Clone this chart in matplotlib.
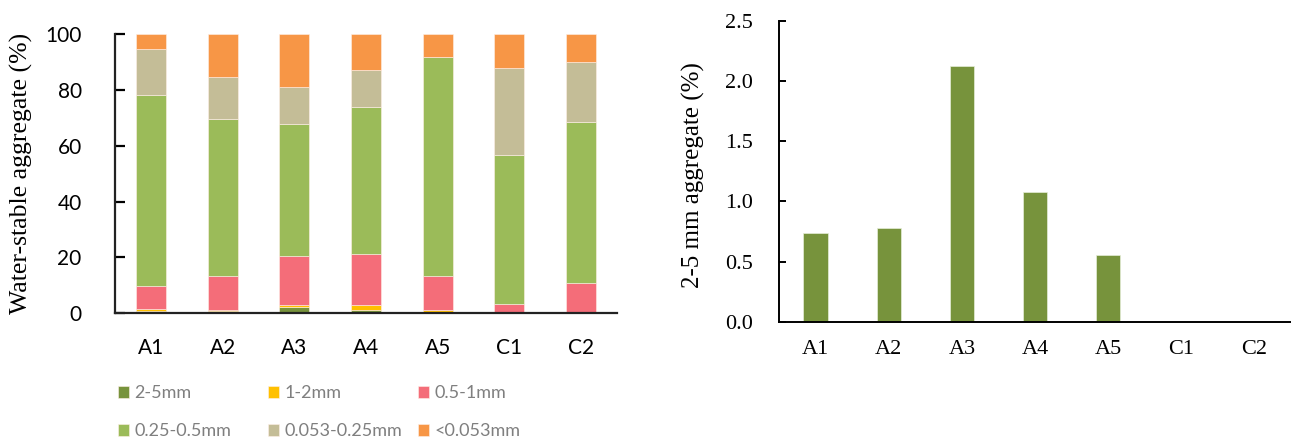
import numpy as np
import matplotlib
matplotlib.use("Agg")
import matplotlib.pyplot as plt

# sample plots
sites = ["A1", "A2", "A3", "A4", "A5", "C1", "C2"]

# aggregate fractions (%), stacked from bottom to top
size_labels = ["2-5mm", "1-2mm", "0.5-1mm", "0.25-0.5mm", "0.053-0.25mm", "<0.053mm"]
frac_2_5 = [0.74, 0.78, 2.12, 1.08, 0.55, 0.0, 0.0]
frac_1_2 = [0.93, 0.30, 0.90, 1.80, 0.75, 0.1, 0.5]
frac_05_1 = [8.1, 12.4, 17.6, 18.5, 12.2, 3.4, 10.4]
frac_025_05 = [68.5, 56.1, 47.3, 52.5, 78.2, 53.0, 57.7]
frac_0053_025 = [16.2, 15.1, 13.1, 13.2, 0.0, 31.3, 21.5]
frac_lt0053 = [5.5, 15.3, 19.0, 12.9, 8.3, 12.2, 9.9]

colors = ["#77933C", "#FFC000", "#F46D79", "#9BBB59", "#C4BD97", "#F79646"]

sans = ["Lato", "DejaVu Sans"]
serif = ["Liberation Serif", "DejaVu Serif"]

fig = plt.figure(figsize=(12.91, 4.41), dpi=100)

# ---- left: stacked bars
ax1 = fig.add_axes([0.0891, 0.2896, 0.3888, 0.6333])
x = np.arange(len(sites))
series = [frac_2_5, frac_1_2, frac_05_1, frac_025_05, frac_0053_025, frac_lt0053]
bottom = np.zeros(len(sites))
handles = []
for vals, c, lab in zip(series, colors, size_labels):
    h = ax1.bar(x, vals, width=0.42, bottom=bottom, color=c, label=lab,
                edgecolor="#FFF0E8", linewidth=0.4)
    handles.append(h)
    bottom += np.array(vals)

ax1.set_xlim(-0.5, 6.5)
ax1.set_ylim(0, 100)
ax1.set_yticks([0, 20, 40, 60, 80, 100])
ax1.set_xticks(x)
ax1.set_xticklabels(sites)
for s in ["top", "right"]:
    ax1.spines[s].set_visible(False)
for s in ["left", "bottom"]:
    ax1.spines[s].set_linewidth(1.6)
    ax1.spines[s].set_color("#222222")
ax1.tick_params(axis="y", direction="in", length=7, width=1.6, pad=24, labelsize=15)
ax1.tick_params(axis="x", length=0, pad=18, labelsize=15)
for t in ax1.get_xticklabels() + ax1.get_yticklabels():
    t.set_family(sans)
ax1.set_ylabel("Water-stable aggregate (%)", family=serif, fontsize=18.5)
ax1.yaxis.set_label_coords(-0.163, 0.5)

# legend: three columns of two rows, each column placed on its own
col_x = [0.0914, 0.2076, 0.3238]
for ci in range(3):
    idx = [ci, ci + 3]
    leg = fig.legend([handles[i] for i in idx], [size_labels[i] for i in idx],
                     loc="upper left", bbox_to_anchor=(col_x[ci], 0.126),
                     frameon=False, prop={"family": sans, "size": 13},
                     handlelength=0.62, handleheight=0.62, handletextpad=0.3,
                     labelspacing=1.2, borderaxespad=0, borderpad=0)
    for t in leg.get_texts():
        t.set_color("#7F7F7F")

# ---- right: 2-5 mm fraction
ax2 = fig.add_axes([0.6034, 0.2705, 0.3966, 0.6825])
ax2.bar(x, frac_2_5, width=0.33, color="#77933C", edgecolor="#E6EED8", linewidth=0.5)
ax2.set_xlim(-0.5, 6.5)
ax2.set_ylim(0, 2.5)
ax2.set_yticks([0.0, 0.5, 1.0, 1.5, 2.0, 2.5])
ax2.set_yticklabels(["0.0", "0.5", "1.0", "1.5", "2.0", "2.5"])
ax2.set_xticks(x)
ax2.set_xticklabels(sites)
for s in ["top", "right"]:
    ax2.spines[s].set_visible(False)
for s in ["left", "bottom"]:
    ax2.spines[s].set_linewidth(1.4)
    ax2.spines[s].set_color("black")
ax2.tick_params(axis="y", direction="in", length=5, width=1.4, pad=19, labelsize=16)
ax2.tick_params(axis="x", length=0, pad=13, labelsize=16)
for t in ax2.get_xticklabels() + ax2.get_yticklabels():
    t.set_family(serif)
ax2.set_ylabel("2-5 mm aggregate (%)", family=serif, fontsize=18)
ax2.yaxis.set_label_coords(-0.145, 0.487)

fig.savefig("out.png", dpi=100)
